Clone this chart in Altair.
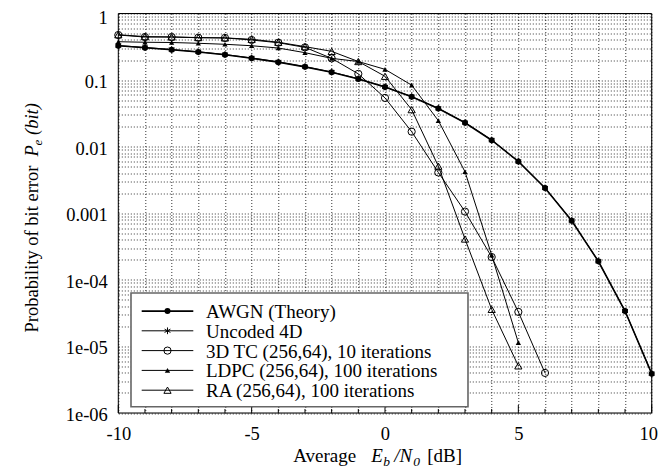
import altair as alt
import pandas as pd

# ---------------- data ----------------
snr_awgn = list(range(-10, 11))
awgn = [0.327, 0.306, 0.286, 0.264, 0.240, 0.213, 0.186, 0.158, 0.131, 0.104,
        0.0786, 0.0563, 0.0375, 0.0229, 0.0125, 0.0060, 0.0024, 0.00077,
        0.00019, 3.4e-5, 3.9e-6]
snr_unc = list(range(-10, 11))
uncoded = [0.330, 0.309, 0.288, 0.266, 0.242, 0.215, 0.187, 0.159, 0.132, 0.105,
           0.0790, 0.0565, 0.0376, 0.0230, 0.0126, 0.0060, 0.0024, 0.00078,
           0.00019, 3.4e-5, 3.9e-6]
snr_tc = list(range(-10, 7))
tc = [0.475, 0.443, 0.443, 0.433, 0.430, 0.400, 0.364, 0.310, 0.212, 0.124,
      0.054, 0.0168, 0.0041, 0.00106, 2.2e-4, 3.3e-5, 4.0e-6]
snr_ldpc = list(range(-10, 6))
ldpc = [0.377, 0.370, 0.367, 0.357, 0.345, 0.328, 0.303, 0.258, 0.212, 0.190,
        0.145, 0.084, 0.0246, 0.0042, 2.35e-4, 1.14e-5]
snr_ra = list(range(-10, 6))
ra = [0.480, 0.450, 0.445, 0.435, 0.430, 0.410, 0.370, 0.318, 0.270, 0.190,
      0.114, 0.036, 0.0051, 4.1e-4, 3.6e-5, 5.1e-6]

names = ["AWGN (Theory)", "Uncoded 4D", "3D TC (256,64), 10 iterations",
         "LDPC (256,64), 100 iterations", "RA (256,64), 100 iterations"]

x_ticks = list(range(-10, 11))
y_ticks = [k * 10.0 ** n for n in range(-6, 0) for k in range(1, 10)] + [1.0]
y_labels = {0: "1", -1: "0.1", -2: "0.01", -3: "0.001", -4: "1e-04",
            -5: "1e-05", -6: "1e-06"}

# ---------------- layout ----------------
W, H = 533.4, 399.5
FONT = "Liberation Serif"
FS = 18.5

ASTERISK = "M0,-1L0,1M-0.87,-0.5L0.87,0.5M-0.87,0.5L0.87,-0.5"

styles = [
    dict(shape="circle", filled=True, size=36, lw=1.6),
    dict(shape=ASTERISK, filled=False, size=45, lw=1.0),
    dict(shape="circle", filled=False, size=52, lw=1.0),
    dict(shape="triangle-up", filled=True, size=28, lw=1.0),
    dict(shape="triangle-up", filled=False, size=52, lw=1.0),
]
series = [(snr_awgn, awgn), (snr_unc, uncoded), (snr_tc, tc),
          (snr_ldpc, ldpc), (snr_ra, ra)]

label_expr = " : ".join(
    f"round(log(datum.value)/LN10) == {e} ? '{t}'" for e, t in y_labels.items()
) + " : ''"
label_expr = ("abs(log(datum.value)/LN10 - round(log(datum.value)/LN10)) < 0.001 ? ("
              + label_expr + ") : ''")

xscale = alt.Scale(domain=[-10, 10], nice=False, zero=False)
yscale = alt.Scale(type="log", domain=[1e-6, 1], nice=False)

xaxis = alt.Axis(values=x_ticks, labelExpr="datum.value % 5 == 0 ? '' + datum.value : ''",
                 title=None, grid=True, gridDash=[1, 2], gridColor="#000",
                 gridOpacity=0.8, ticks=False, domain=False, labelFontSize=FS,
                 labelFont=FONT, labelColor="#000", labelPadding=12,
                 labelFlush=False, labelOverlap=False,
                 labelOffset={"condition": {"test": "datum.value == 10", "value": -3.5},
                              "value": 0})
yaxis = alt.Axis(values=y_ticks, labelExpr=label_expr, title=None, grid=True,
                 gridDash=[1, 2], gridColor="#000", gridOpacity=0.8,
                 ticks=False, domain=False, labelFontSize=FS, labelFont=FONT,
                 labelColor="#000", labelPadding=11, labelFlush=False,
                 labelOverlap=False,
                 labelOffset={"condition": {"test": "datum.value > 0.999", "value": 4},
                              "value": 1.5})

layers = []
for i, ((xs, ys), st) in enumerate(zip(series, styles)):
    df = pd.DataFrame({"snr": xs, "pe": ys, "name": names[i]})
    enc = dict(
        x=alt.X("snr:Q", scale=xscale, axis=xaxis),
        y=alt.Y("pe:Q", scale=yscale, axis=yaxis),
    )
    layers.append(alt.Chart(df).mark_line(color="#000", strokeWidth=st["lw"])
                  .encode(**enc))
    layers.append(alt.Chart(df).mark_point(
        shape=st["shape"], filled=st["filled"], size=st["size"],
        color="#000", strokeWidth=1, opacity=1).encode(**enc))

# inward ticks on the bottom axis
tick_df = pd.DataFrame({"snr": x_ticks})
tick_df["major"] = tick_df["snr"] % 5 == 0
layers.append(alt.Chart(tick_df[~tick_df["major"]]).mark_rule(color="#000", strokeWidth=1)
              .encode(x=alt.X("snr:Q", scale=xscale, axis=xaxis),
                      y=alt.value(H - 4), y2=alt.value(H)))
layers.append(alt.Chart(tick_df[tick_df["major"]]).mark_rule(color="#000", strokeWidth=1)
              .encode(x=alt.X("snr:Q", scale=xscale, axis=xaxis),
                      y=alt.value(H - 8), y2=alt.value(H)))

# legend box
box = pd.DataFrame({"k": [0]})
layers.append(alt.Chart(box).mark_rect(fill="#fff", stroke="#666", strokeWidth=1.6)
              .encode(x=alt.value(12.7), x2=alt.value(349.7),
                      y=alt.value(279.5), y2=alt.value(393.2)))

row_y = [297.6, 317.3, 337.1, 356.9, 376.7]
for i, st in enumerate(styles):
    d = pd.DataFrame({"name": [names[i]]})
    ry = row_y[i]
    layers.append(alt.Chart(d).mark_rule(color="#000", strokeWidth=st["lw"])
                  .encode(x=alt.value(23.4), x2=alt.value(75), y=alt.value(ry)))
    layers.append(alt.Chart(d).mark_point(shape=st["shape"], filled=st["filled"],
                                          size=st["size"], color="#000",
                                          strokeWidth=1, opacity=1)
                  .encode(x=alt.value(49.2), y=alt.value(ry)))
    layers.append(alt.Chart(d).mark_text(align="left", baseline="middle",
                                         font=FONT, fontSize=19, color="#000")
                  .encode(x=alt.value(87.7), y=alt.value(ry + 1), text="name:N"))


def piece(text, x, y, size=FS, style="normal", angle=0):
    d = pd.DataFrame({"t": [text]})
    return (alt.Chart(d).mark_text(align="left", baseline="alphabetic", font=FONT,
                                   fontSize=size, fontStyle=style, angle=angle,
                                   color="#000")
            .encode(x=alt.value(x), y=alt.value(y), text="t:N"))


# x-axis title: Average  E_b /N_0 [dB]
xt = 175.0
yb = 449.0
XF = 19
layers += [
    piece("Average", xt, yb, size=XF),
    piece("E", xt + 78, yb, size=XF, style="italic"),
    piece("b", xt + 90, yb + 4, size=13.5, style="italic"),
    piece("/N", xt + 101, yb, size=XF, style="italic"),
    piece("0", xt + 120, yb + 4, size=13.5, style="italic"),
    piece("[dB]", xt + 134, yb, size=XF),
]

# y-axis title: Probability of bit error  P_e (bit)
yx = -80.5
ys0 = 319.0
layers += [
    piece("Probability of bit error", yx, ys0, angle=270),
    piece("P", yx, ys0 - 176, style="italic", angle=270),
    piece("e", yx + 4, ys0 - 187, size=13, style="italic", angle=270),
    piece("(bit)", yx, ys0 - 197.5, style="italic", angle=270),
]

# plot frame
layers.append(alt.Chart(box).mark_rect(fill=None, stroke="#000", strokeWidth=1)
              .encode(x=alt.value(0), x2=alt.value(W), y=alt.value(0), y2=alt.value(H)))

chart = alt.layer(*layers).properties(
    width=W, height=H,
    autosize=alt.AutoSizeParams(type="none"),
    padding={"left": 110.3, "top": 5.5, "right": 6.2, "bottom": 56},
).configure_view(stroke="#000", strokeWidth=1).configure(font=FONT)

chart.save("out.html", embed_options={"renderer": "svg", "actions": False})
